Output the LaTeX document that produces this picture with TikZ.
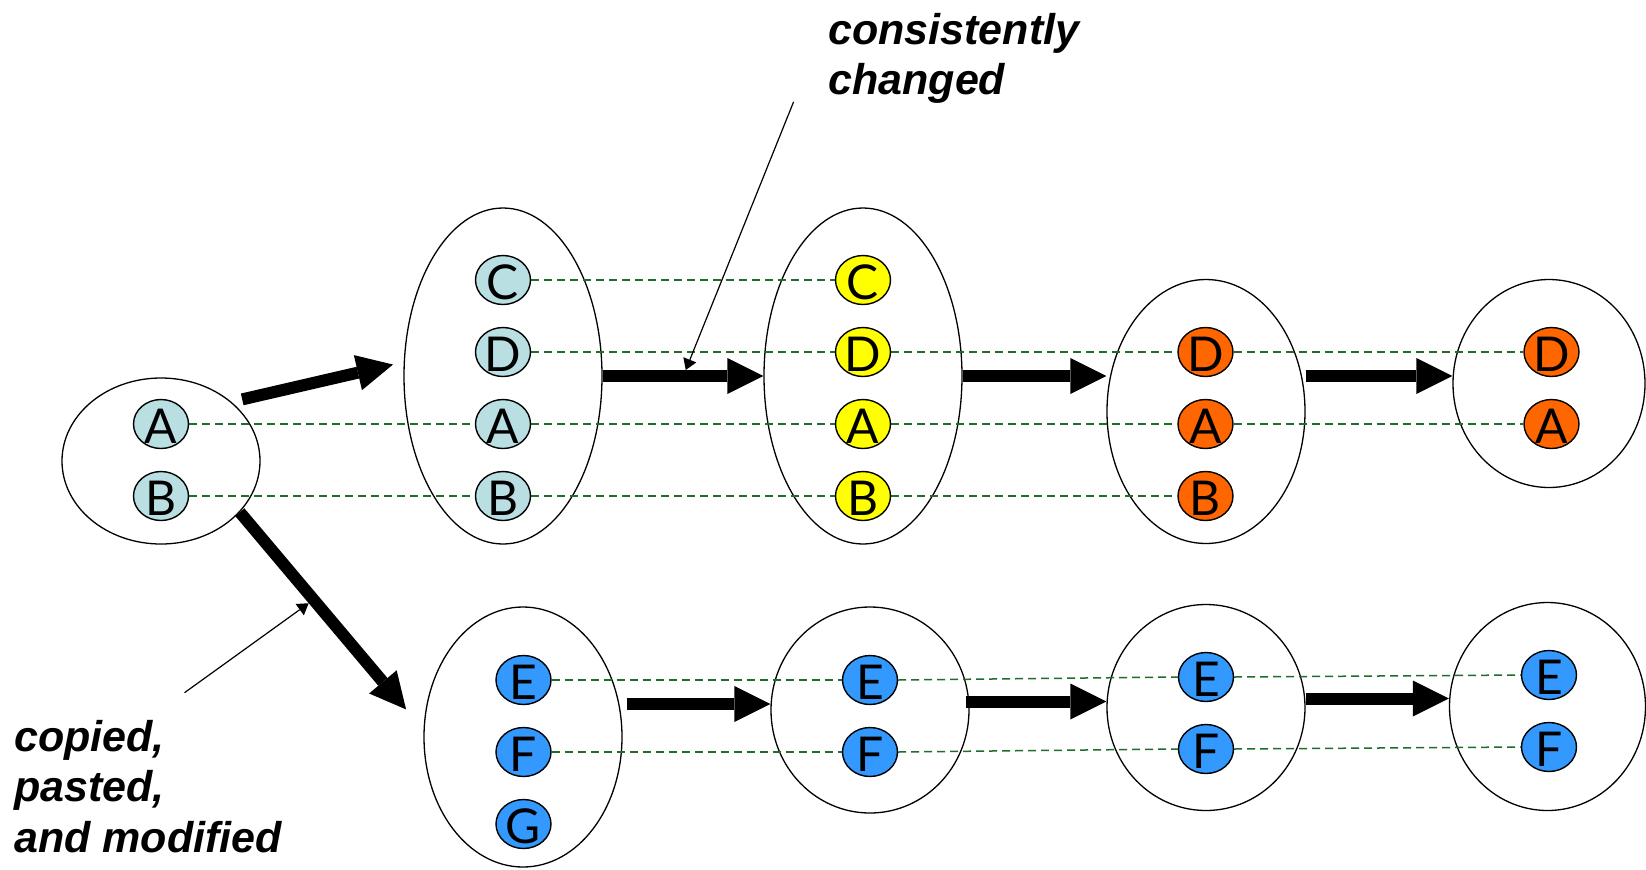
\documentclass[tikz,border=0pt]{standalone}
\usepackage{fontspec}
\usetikzlibrary{shapes.geometric,arrows.meta}
\newfontfamily\letterfont{Lato}
\newfontfamily\notefont{Liberation Sans}
\definecolor{tealfill}{HTML}{B9DFE2}
\definecolor{yelfill}{HTML}{FFFF00}
\definecolor{orgfill}{HTML}{FF6600}
\definecolor{bluefill}{HTML}{3399FF}
\definecolor{linkgreen}{HTML}{1E6E2A}
% one element: name, position, fill colour, letter
\newcommand\elt[4]{\node[elem=#3,label={[letter]center:#4}] (#1) at (#2) {};}
\begin{document}
\begin{tikzpicture}[x=0.5pt,y=-0.5pt,
  group/.style={draw,ellipse,line width=0.65pt,inner sep=0pt},
  elem/.style={draw,ellipse,line width=0.7pt,inner sep=0pt,
    minimum width=27.5pt,minimum height=24.5pt,fill=#1},
  letter/.style={font=\letterfont\fontsize{24}{24}\selectfont,inner sep=0pt,yshift=-1pt},
  link/.style={draw=linkgreen,line width=0.75pt,dash pattern=on 4pt off 2.5pt},
  flow/.style={line width=6pt,-{Triangle[length=18pt,width=18pt,line width=0pt]}},
  pointer/.style={line width=0.6pt,-{Triangle[length=5.5pt,width=7pt,line width=0pt]}},
  note/.style={font=\notefont\bfseries\itshape\fontsize{21.5}{25.4}\selectfont,
    align=left,inner sep=0pt,anchor=north west}
]
\fill[white] (0,0) rectangle (1646,869);
\useasboundingbox (0,0) rectangle (1646,869);

% groups
\node[group,minimum width=99pt,minimum height=83pt]  (s1) at (161,461) {};
\node[group,minimum width=99pt,minimum height=168pt] (s2) at (503,376) {};
\node[group,minimum width=99pt,minimum height=168pt] (s3) at (863,376) {};
\node[group,minimum width=99pt,minimum height=132pt] (s4) at (1206,411.5) {};
\node[group,minimum width=96pt,minimum height=104pt] (s5) at (1549,383.5) {};
\node[group,minimum width=99pt,minimum height=130pt] (s6) at (523,737) {};
\node[group,minimum width=99pt,minimum height=103pt] (s7) at (870,710) {};
\node[group,minimum width=99pt,minimum height=103pt] (s8) at (1206,707.5) {};
\node[group,minimum width=98pt,minimum height=104pt] (s9) at (1547.5,706.5) {};

% elements
\elt{A1}{161,424}{tealfill}{A}
\elt{B1}{161,496}{tealfill}{B}
\elt{C2}{503,280}{tealfill}{C}
\elt{D2}{503,352}{tealfill}{D}
\elt{A2}{503,424}{tealfill}{A}
\elt{B2}{503,496}{tealfill}{B}
\elt{C3}{863,280}{yelfill}{C}
\elt{D3}{863,352}{yelfill}{D}
\elt{A3}{863,424}{yelfill}{A}
\elt{B3}{863,496}{yelfill}{B}
\elt{D4}{1205.5,352}{orgfill}{D}
\elt{A4}{1205.5,424}{orgfill}{A}
\elt{B4}{1205.5,496}{orgfill}{B}
\elt{D5}{1551.5,352}{orgfill}{D}
\elt{A5}{1551.5,424}{orgfill}{A}
\elt{E6}{523.5,680}{bluefill}{E}
\elt{F6}{523.5,752}{bluefill}{F}
\elt{G6}{523.5,824}{bluefill}{G}
\elt{E7}{870,680}{bluefill}{E}
\elt{F7}{870,752}{bluefill}{F}
\elt{E8}{1206,677}{bluefill}{E}
\elt{F8}{1206,749}{bluefill}{F}
\elt{E9}{1549,675}{bluefill}{E}
\elt{F9}{1549,747}{bluefill}{F}

% correspondence links
\draw[link] (C2.east) -- (C3.west);
\draw[link] (D2.east) -- (D3.west);
\draw[link] (D3.east) -- (D4.west);
\draw[link] (D4.east) -- (D5.west);
\draw[link] (A1.east) -- (A2.west);
\draw[link] (A2.east) -- (A3.west);
\draw[link] (A3.east) -- (A4.west);
\draw[link] (A4.east) -- (A5.west);
\draw[link] (B1.east) -- (B2.west);
\draw[link] (B2.east) -- (B3.west);
\draw[link] (B3.east) -- (B4.west);
\draw[link] (E6.east) -- (E7.west);
\draw[link] (E7.east) -- (E8.west);
\draw[link] (E8.east) -- (E9.west);
\draw[link] (F6.east) -- (F7.west);
\draw[link] (F7.east) -- (F8.west);
\draw[link] (F8.east) -- (F9.west);

% evolution steps
\draw[flow,shorten <=5.5pt,shorten >=5.5pt] (s1.40) -- (s2.172);
\draw[flow,shorten >=13.5pt] (s1.-33) --
  coordinate[pos=0.40,xshift=-2.3pt,yshift=-1.95pt] (m2) (s6.176);
\draw[flow] (s2.east) -- coordinate[pos=0.517,yshift=3pt] (m3) (s3.west);
\draw[flow] (s3.east) -- (s3.east -| s4.west);
\draw[flow] (s3.east -| s4.east) -- (s3.east -| s5.west);
\path ([yshift=3pt]s7.west) coordinate (h6);
\path ([yshift=3pt]s8.west) coordinate (h7);
\path ([yshift=4pt]s9.west) coordinate (h8);
\draw[flow,shorten <=2pt] (s6.east |- h6) -- (h6);
\draw[flow,shorten <=-2pt] (s7.east |- h7) -- (h7);
\draw[flow] (s8.east |- h8) -- (h8);

% annotations
\node[note] (t1) at (828,12.5) {consistently\\changed};
\node[note] (t2) at (14,719.6) {copied,\\pasted,\\and modified};
\coordinate (p1) at (793.6,101.8);
\coordinate (p2) at (184.5,692.7);
\draw[pointer] (p1) -- (m3);
\draw[pointer] (p2) -- (m2);
\end{tikzpicture}
\end{document}
